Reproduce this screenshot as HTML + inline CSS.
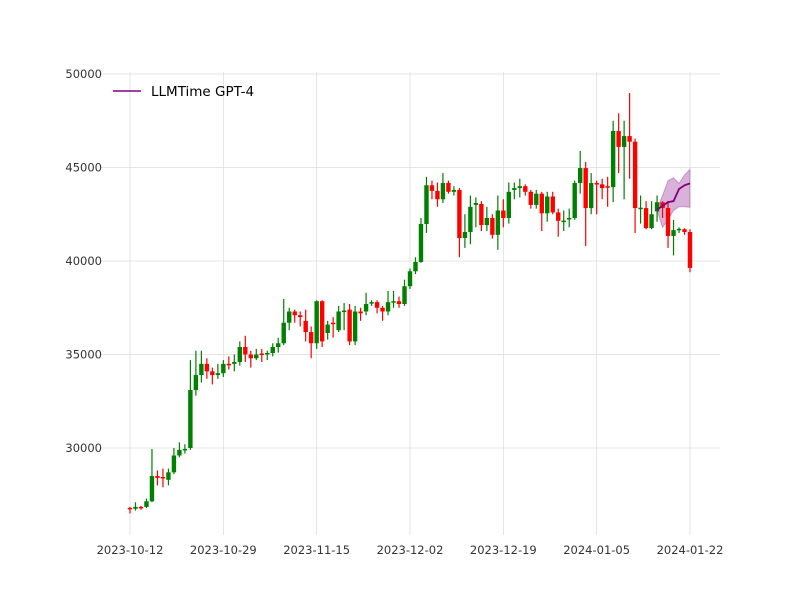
<!DOCTYPE html>
<html><head><meta charset="utf-8"><style>
html,body{margin:0;padding:0;background:#fff;}
svg{display:block;font-family:"DejaVu Sans","Liberation Sans",sans-serif;}
</style></head><body>
<svg id="chart" width="800" height="600" xmlns="http://www.w3.org/2000/svg">
<g id="grid"></g>
<g id="band"></g>
<g id="candles"></g>
<g id="forecast"></g>
<g id="axes"></g>
<g>
<line x1="113" y1="91" x2="141" y2="91" stroke="#800080" stroke-width="1.5"/>
<text x="151" y="96" font-size="13.5" fill="#000">LLMTime GPT-4</text>
</g>
</svg>
<script>
const opens=[26800,26750,26850,26850,27150,28500,28450,28300,28700,29600,29900,30000,33100,33900,34500,34100,33900,34000,34500,34500,34600,35400,35000,34800,35050,35000,35080,35400,35600,36700,37300,37100,36800,36200,35600,37850,36150,36700,36300,37300,37400,35700,37300,37300,37750,37800,37500,37300,37800,37850,37700,38650,39450,39950,41980,44050,43750,43300,44170,43700,43800,41230,41550,43000,43050,41920,42300,41400,42700,42300,43800,43900,44000,43700,43000,43600,42550,43450,42600,42150,42250,42300,44170,44970,42830,44170,44100,44000,43950,46950,46100,46680,46380,42830,42830,41760,42650,43140,42830,41340,41700,41700,41550];
const highs=[26850,27100,26900,27300,29950,28800,28900,28900,30000,30300,30200,34700,35200,35200,34800,34300,34500,34700,34900,35000,35700,36000,35200,35300,35300,35200,35600,35900,37970,37500,37400,37300,37400,36500,37900,37900,36800,37000,37600,37750,37700,37600,37500,38300,37900,37900,37600,38400,38400,38100,39000,39600,40200,42300,44500,44300,44200,44700,44300,44000,43900,42500,43500,43400,43200,42900,42500,43500,43300,44200,44200,44400,44100,43800,43800,43700,43700,43700,42800,42700,42800,44300,45880,45300,44700,44300,44400,44500,47500,47900,47500,48980,46550,43500,43200,43200,43500,43200,43200,42200,41800,41750,41700];
const lows=[26500,26650,26700,26800,27100,28000,27900,28000,28600,29500,29700,29900,32800,33500,33700,33400,33700,33800,34200,34100,34400,34600,34300,34700,34600,34700,34900,35100,35500,36300,36700,36500,35700,34800,35300,35400,35800,35900,36200,36300,35500,35500,36800,37100,37600,37200,36800,37100,37500,37500,37600,38500,39300,39900,41500,43300,42900,43100,43600,43500,40200,40700,40900,41800,41600,41600,41200,40600,41800,42000,43300,43400,43500,42800,42800,41600,42100,42500,41300,41600,41800,42200,43600,40800,42500,42500,43300,42900,43150,44700,43300,44400,41500,42000,41700,41700,42100,42300,40700,40300,41500,41400,39400];
const closes=[26750,26850,26800,27150,28500,28400,28400,28700,29600,29900,29950,33100,33900,34500,34100,33900,34000,34500,34480,34600,35400,35000,34800,35000,35000,35080,35400,35600,36700,37300,37100,37000,36200,35600,37850,35700,36600,36650,37300,37350,35700,37300,37200,37700,37800,37500,37300,37800,37850,37700,38650,39450,39950,41980,44050,43750,43300,44170,43700,43800,41230,41550,42900,43100,41920,42300,41400,42700,42300,43700,43900,44000,43700,43000,43600,42550,43450,42600,42150,42160,42300,44170,44970,42830,44170,44100,43900,43950,46950,46100,46680,46380,42830,42850,41760,42500,43140,42830,41340,41650,41720,41550,39630];
const forecastStart=96;
const forecastMedian=[42750,42950,43150,43200,43850,44050,44150];
const forecastUpper=[42800,43500,44300,44450,44150,44600,44900];
const forecastLower=[42700,41800,42200,42700,42900,42900,42870];
const yTicks=[30000,35000,40000,45000,50000];
const xTickLabels=["2023-10-12","2023-10-29","2023-11-15","2023-12-02","2023-12-19","2024-01-05","2024-01-22"];
const xTickIdx=[0,17,34,51,68,85,102];

const NS="http://www.w3.org/2000/svg";
const X=i=>130+i*(560/102);
const Y=v=>74+(50000-v)*93.5/5000;
function mk(tag,attrs,parent){const e=document.createElementNS(NS,tag);for(const k in attrs)e.setAttribute(k,attrs[k]);parent.appendChild(e);return e;}
const grid=document.getElementById('grid'),axes=document.getElementById('axes');
yTicks.forEach(t=>{
  const l=mk('line',{x1:100,x2:720,y1:Y(t),y2:Y(t),stroke:'#dddddd','stroke-width':0.8},grid);
  
  
  const tx=mk('text',{x:102,y:Y(t)+4.2,'text-anchor':'end','font-size':11.5,fill:'#333'},axes);
  tx.textContent=t;
  
  
});
xTickIdx.forEach((d,k)=>{
  const l=mk('line',{x1:X(d),x2:X(d),y1:72,y2:535,stroke:'#dddddd','stroke-width':0.8},grid);
  
  
  const tx=mk('text',{x:X(d),y:554,'text-anchor':'middle','font-size':11.5,fill:'#333'},axes);
  tx.textContent=xTickLabels[k];
  
  
});
const cg=document.getElementById('candles');
opens.forEach((o,i)=>{
  const c=closes[i],col=c>=o?'#008000':'#ff0000',x=X(i);
  const g=mk('g',{},cg);
  
  
  mk('line',{x1:x,x2:x,y1:Y(highs[i]),y2:Y(lows[i]),stroke:col,'stroke-width':1.2},g);
  const top=Y(Math.max(o,c)),h=Math.max(1.5,Math.abs(Y(o)-Y(c)));
  mk('rect',{x:x-2.2,y:top,width:4.4,height:h,fill:col},g);
});
const bg=document.getElementById('band');
let d='';
forecastUpper.forEach((v,k)=>{d+=(k?'L':'M')+X(forecastStart+k)+','+Y(v);});
for(let k=forecastLower.length-1;k>=0;k--)d+='L'+X(forecastStart+k)+','+Y(forecastLower[k]);
const bp=mk('path',{d:d+'Z',fill:'#800080','fill-opacity':0.3,stroke:'#800080','stroke-opacity':0.3},bg);


const fg=document.getElementById('forecast');
const pts=forecastMedian.map((v,k)=>X(forecastStart+k)+','+Y(v)).join(' ');
const pl=mk('polyline',{points:pts,fill:'none',stroke:'#800080','stroke-width':1.8},fg);


</script>
</body></html>
